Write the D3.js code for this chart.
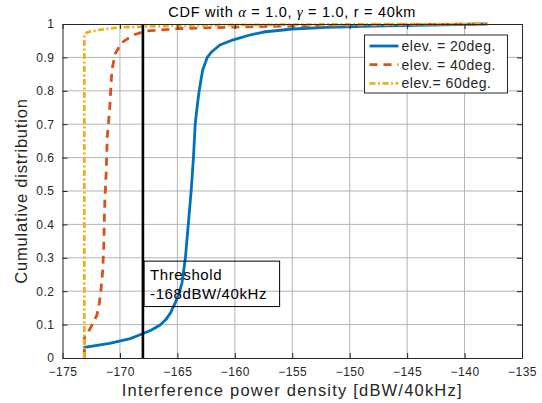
<!DOCTYPE html>
<html>
<head>
<meta charset="utf-8">
<script src="https://cdn.jsdelivr.net/npm/d3@7/dist/d3.min.js"></script>
<style>
  html, body { margin: 0; padding: 0; background: #fff; }
  svg { display: block; }
  text { font-family: "Liberation Sans", Arial, Helvetica, sans-serif; }
</style>
</head>
<body>
<svg id="chart" width="542" height="403"></svg>
<script>
// Interference power density (dBW/40kHz) and cumulative probability per elevation
const elev20X = [-173.1, -173.1, -172.0, -170.9, -169.1, -168.3, -167.3, -166.5, -166.0, -165.6, -165.2, -164.9, -164.6, -164.3, -164.05, -163.8, -163.6, -163.45, -163.25, -163.1, -162.8, -162.4, -162.0, -161.3, -160.2, -158.7, -157.5, -155.0, -152.0, -148.0, -143.0, -138.2];
const elev20Y = [0, 0.032, 0.038, 0.044, 0.058, 0.069, 0.083, 0.099, 0.115, 0.135, 0.164, 0.19, 0.224, 0.3, 0.4, 0.5, 0.6, 0.7, 0.76, 0.8, 0.862, 0.9, 0.917, 0.937, 0.952, 0.967, 0.976, 0.985, 0.99, 0.994, 0.997, 1.0];

const elev40X = [-173.1, -173.1, -172.75, -172.5, -172.0, -171.8, -171.65, -171.5, -171.4, -171.36, -171.3, -171.2, -171.1, -170.9, -170.7, -170.4, -169.85, -168.85, -167.7, -165.0, -160.0, -155.0, -150.0, -145.0, -138.0];
const elev40Y = [0, 0.06, 0.079, 0.094, 0.129, 0.164, 0.204, 0.263, 0.343, 0.413, 0.483, 0.553, 0.663, 0.743, 0.862, 0.912, 0.944, 0.967, 0.979, 0.986, 0.991, 0.994, 0.996, 0.998, 1.0];

const elev60X = [-173.1, -173.1, -172.9, -172.6, -171.5, -170.0, -167.4, -165.0, -160.0, -150.0, -138.0];
const elev60Y = [0, 0.968, 0.974, 0.977, 0.984, 0.99, 0.993, 0.995, 0.997, 0.999, 1.0];

const seriesNames = ["elev. = 20deg.", "elev. = 40deg.", "elev.= 60deg."];
const xTicks = [-175, -170, -165, -160, -155, -150, -145, -140, -135];
const yTicks = [0, 0.1, 0.2, 0.3, 0.4, 0.5, 0.6, 0.7, 0.8, 0.9, 1];
const thresholdValue = -168;
const thresholdLines = ["Threshold", "-168dBW/40kHz"];

const svg = d3.select("#chart");
const W = 542, H = 403;
const m = { left: 62.5, right: 20, top: 24, bottom: 45 };
const plotW = W - m.left - m.right;
const plotH = H - m.top - m.bottom;

svg.append("rect").attr("width", W).attr("height", H).attr("fill", "#fff");

const x = d3.scaleLinear().domain([-175, -135]).range([m.left, m.left + plotW]);
const y = d3.scaleLinear().domain([0, 1]).range([m.top + plotH, m.top]);

const axisColor = "#262626";
const gridColor = "#b4b4b4";

// grid
const grid = svg.append("g");
grid.selectAll(".gx").data(xTicks.slice(1, -1)).join("line")
  .attr("x1", d => x(d)).attr("x2", d => x(d))
  .attr("y1", y(0)).attr("y2", y(1))
  .attr("stroke", gridColor).attr("stroke-width", 1);
grid.selectAll(".gy").data(yTicks.slice(1, -1)).join("line")
  .attr("y1", d => y(d)).attr("y2", d => y(d))
  .attr("x1", x(-175)).attr("x2", x(-135))
  .attr("stroke", gridColor).attr("stroke-width", 1);

// curves
const series = [
  { name: seriesNames[0], xs: elev20X, ys: elev20Y, color: "#0072BD", dash: null, width: 2.8 },
  { name: seriesNames[1], xs: elev40X, ys: elev40Y, color: "#D95319", dash: "8,6", width: 2.8 },
  { name: seriesNames[2], xs: elev60X, ys: elev60Y, color: "#EDB120", dash: "6,2.5,2,2.5", width: 2.8 }
];
const line = d3.line().x(d => x(d[0])).y(d => y(d[1]));
const curves = svg.append("g");
series.forEach(s => {
  const pts = s.xs.map((v, i) => [v, s.ys[i]]);
  curves.append("path")
    .attr("d", line(pts))
    .attr("fill", "none")
    .attr("stroke", s.color)
    .attr("stroke-width", s.width)
    .attr("stroke-linejoin", "round")
    .attr("stroke-dasharray", s.dash);
});

// threshold marker
svg.append("line")
  .attr("x1", x(thresholdValue)).attr("x2", x(thresholdValue))
  .attr("y1", y(0)).attr("y2", y(1))
  .attr("stroke", "#000").attr("stroke-width", 2.6);

// axes with inward ticks on all four sides
const tickLen = 5;
const xAxisB = d3.axisBottom(x).tickValues(xTicks).tickSizeInner(-tickLen).tickSizeOuter(0).tickPadding(9)
  .tickFormat(d3.format("d"));
const xAxisT = d3.axisTop(x).tickValues(xTicks).tickSizeInner(-tickLen).tickSizeOuter(0).tickFormat("");
const yAxisL = d3.axisLeft(y).tickValues(yTicks).tickSizeInner(-tickLen).tickSizeOuter(0).tickPadding(8)
  .tickFormat(d => d === 0 || d === 1 ? d3.format("d")(d) : d3.format(".1f")(d));
const yAxisR = d3.axisRight(y).tickValues(yTicks).tickSizeInner(-tickLen).tickSizeOuter(0).tickFormat("");

function styleAxis(g) {
  g.select(".domain").attr("stroke", axisColor).attr("stroke-width", 1);
  g.selectAll(".tick line").attr("stroke", axisColor).attr("stroke-width", 1);
  g.selectAll(".tick text").attr("fill", axisColor).attr("font-size", 12)
    .attr("letter-spacing", 0.5)
    .attr("font-family", "'Liberation Sans', Arial, sans-serif");
}
svg.append("g").attr("transform", `translate(0,${y(0)})`).call(xAxisB).call(styleAxis);
svg.append("g").attr("transform", `translate(0,${y(1)})`).call(xAxisT).call(styleAxis);
svg.append("g").attr("transform", `translate(${x(-175)},0)`).call(yAxisL).call(styleAxis);
svg.append("g").attr("transform", `translate(${x(-135)},0)`).call(yAxisR).call(styleAxis);

// threshold annotation box
const tb = { x0: x(-167.9), x1: x(-156.1), y0: y(0.29), y1: y(0.154) };
svg.append("rect")
  .attr("x", tb.x0).attr("y", tb.y0)
  .attr("width", tb.x1 - tb.x0).attr("height", tb.y1 - tb.y0)
  .attr("fill", "none").attr("stroke", "#000").attr("stroke-width", 1);
svg.append("text").attr("x", tb.x0 + 6).attr("y", tb.y0 + 19)
  .attr("font-size", 15).attr("letter-spacing", 0.6).attr("fill", "#000").text(thresholdLines[0]);
svg.append("text").attr("x", tb.x0 + 6).attr("y", tb.y0 + 38)
  .attr("font-size", 15).attr("letter-spacing", 0.6).attr("fill", "#000").text(thresholdLines[1]);

// legend
const lg = svg.append("g");
const lgX = 364.5, lgY = 35, lgW = 143, lgH = 58;
lg.append("rect").attr("x", lgX).attr("y", lgY).attr("width", lgW).attr("height", lgH)
  .attr("fill", "#fff").attr("stroke", axisColor).attr("stroke-width", 1);
series.forEach((s, i) => {
  const cy = lgY + 11 + i * 18.7;
  lg.append("line").attr("x1", lgX + 5).attr("x2", lgX + 34).attr("y1", cy).attr("y2", cy)
    .attr("stroke", s.color).attr("stroke-width", s.width).attr("stroke-dasharray", s.dash);
  lg.append("text").attr("x", lgX + 37).attr("y", cy + 5)
    .attr("font-size", 14).attr("letter-spacing", 0.5).attr("fill", axisColor).text(s.name);
});

// title
const title = svg.append("text").attr("x", x(-155)).attr("y", 17)
  .attr("text-anchor", "middle").attr("font-size", 14.5).attr("letter-spacing", 0.7).attr("fill", "#000");
title.append("tspan").text("CDF with ");
title.append("tspan").attr("font-family", "'Liberation Serif', serif").attr("font-style", "italic").text("α");
title.append("tspan").text(" = 1.0, ");
title.append("tspan").attr("font-family", "'Liberation Serif', serif").attr("font-style", "italic").text("γ");
title.append("tspan").text(" = 1.0, r = 40km");

// axis labels
svg.append("text").attr("x", x(-155)).attr("y", 396)
  .attr("text-anchor", "middle").attr("font-size", 16.5).attr("letter-spacing", 1.2).attr("fill", axisColor)
  .text("Interference power density [dBW/40kHz]");
svg.append("text").attr("transform", `translate(27,${y(0.5)}) rotate(-90)`)
  .attr("text-anchor", "middle").attr("font-size", 16.5).attr("letter-spacing", 0.8).attr("fill", axisColor)
  .text("Cumulative distribution");
</script>
</body>
</html>
